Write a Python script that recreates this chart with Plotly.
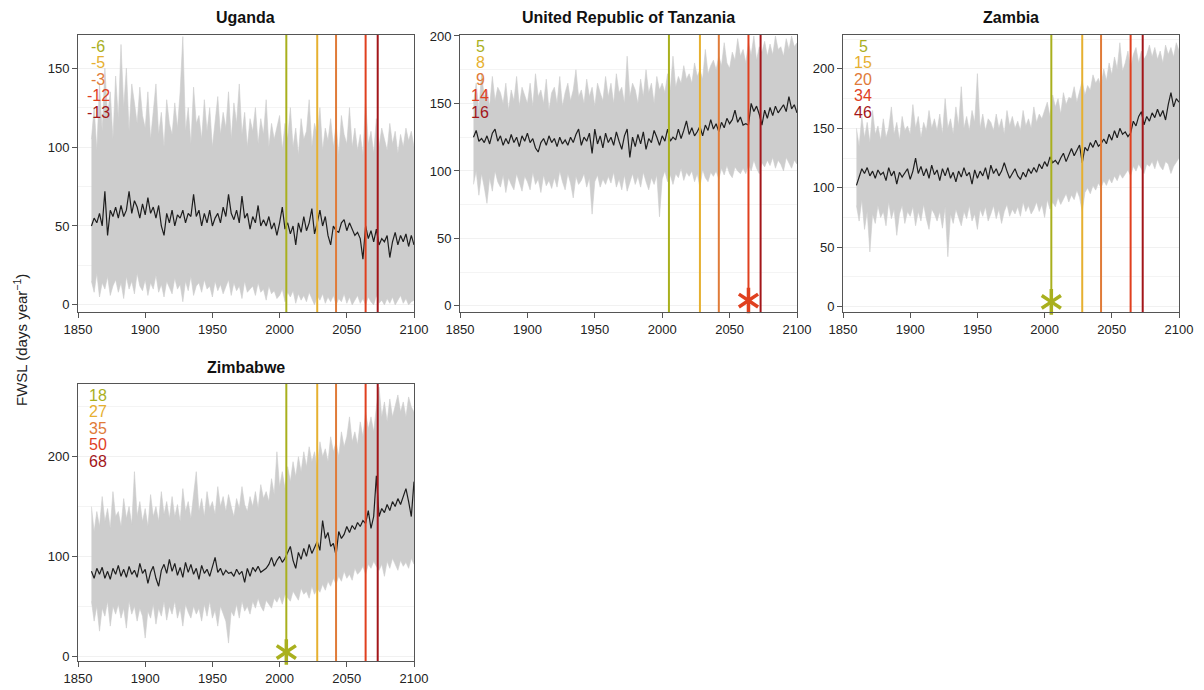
import plotly.graph_objects as go

# ---------------- data ----------------
years = list(range(1860, 2101, 2))
threshold_years = [2005, 2028, 2042, 2064, 2073]
threshold_colors = ['#a9b01e', '#e6b030', '#e07b39', '#e0401f', '#a3161a']
x_ticks = [1850, 1900, 1950, 2000, 2050, 2100]

countries = ['Uganda', 'United Republic of Tanzania', 'Zambia', 'Zimbabwe']

uganda_labels = ['-6', '-5', '-3', '-12', '-13']
tanzania_labels = ['5', '8', '9', '14', '16']
zambia_labels = ['5', '15', '20', '34', '46']
zimbabwe_labels = ['18', '27', '35', '50', '68']

# emergence markers: (year, threshold index) or None
uganda_star = None
tanzania_star = (2064, 3)
zambia_star = (2005, 0)
zimbabwe_star = (2005, 0)

uganda_mean = [
    50, 55, 52, 58, 50, 72, 44, 60, 56, 62,
    55, 63, 56, 60, 72, 58, 66, 62, 55, 64,
    57, 68, 58, 62, 55, 63, 50, 44, 58, 52,
    60, 50, 57, 55, 60, 52, 58, 56, 70, 56,
    60, 50, 58, 52, 60, 50, 55, 58, 52, 62,
    56, 70, 58, 54, 60, 52, 69, 55, 58, 48,
    56, 52, 63, 50, 54, 50, 56, 48, 52, 44,
    52, 62, 48, 52, 45, 50, 38, 52, 46, 56,
    47, 52, 61, 45, 52, 60, 50, 56, 44, 38,
    50, 47, 46, 52, 54, 47, 52, 48, 44, 46,
    42, 29, 50, 42, 47, 40, 48, 38, 42, 40,
    44, 30, 40, 46, 38, 44, 40, 45, 37, 44,
    38]
uganda_upper = [
    105, 125, 98, 140, 110, 150, 120, 135, 105, 145,
    118, 165, 125, 150, 110, 140, 128, 115, 138, 120,
    112, 135, 105, 125, 140, 108, 122, 100, 130, 115,
    108, 128, 112, 135, 170, 110, 125, 102, 138, 115,
    120, 105, 130, 110, 125, 100, 118, 132, 108, 122,
    112, 135, 105, 128, 115, 140, 108, 122, 100, 118,
    110, 125, 102, 118, 108, 130, 100, 115, 105, 112,
    120, 98, 115, 105, 125, 100, 112, 95, 118, 105,
    110, 130, 100, 115, 108, 125, 98, 112, 104, 118,
    100, 115, 95, 120, 108, 102, 125, 100, 112, 98,
    108, 95, 130, 102, 110, 96, 118, 100, 112, 105,
    98, 115, 102, 110, 96, 108, 100, 112, 104, 110,
    100]
uganda_lower = [
    15, 8, 20, 5, 14, 10, 18, 6, 12, 16,
    8, 14, 4, 18, 10, 15, 7, 20, 12, 9,
    16, 6, 14, 10, 19, 8, 13, 5, 15, 11,
    7, 17, 10, 13, 2, 15, 9, 18, 6, 12,
    14, 8, 16, 10, 12, 5, 15, 9, 13, 7,
    11, 16, 6, 14, 9, 12, 4, 15, 8, 10,
    12, 6, 14, 8, 10, 3, 12, 7, 9, 4,
    6, 10, 2, 8, 5, 9, 1, 7, 3, 6,
    2, 8, 4, 0, 6, 3, 7, 1, 5, 2,
    6, 0, 4, 2, 7, 1, 5, 0, 3, 6,
    1, 4, 0, 5, 2, 0, 6, 1, 3, 0,
    4, 1, 5, 0, 3, 6, 1, 4, 0, 2,
    3]

tanzania_mean = [
    125, 130, 122, 124, 121, 126, 120, 128, 131, 122,
    126, 119, 124, 120, 127, 121, 125, 118, 126, 122,
    128, 121, 124, 117, 114, 121, 124, 119, 126, 121,
    124, 118, 125, 120, 123, 119, 125, 121, 127, 131,
    119, 125, 122, 128, 113, 131, 120, 126, 117, 128,
    121, 125, 119, 129, 122, 116, 126, 131, 110, 125,
    118, 127, 120, 129, 116, 124, 121, 130, 125, 119,
    126, 122, 131, 122, 125, 123, 131, 124, 130, 137,
    127, 132, 126, 129, 133, 126, 134, 130, 138, 131,
    135, 129, 136, 132, 139, 135, 138, 145, 136, 140,
    134, 135, 134, 150, 144, 148, 142, 134, 145, 139,
    147, 141, 148, 143, 146, 149, 144, 155, 146, 149,
    143]
tanzania_upper = [
    150, 165, 145, 172, 155, 160, 148, 170, 152, 162,
    158, 150, 165, 145, 160, 152, 170, 148, 162, 155,
    150, 165, 148, 172, 155, 160, 150, 168, 145, 158,
    162, 150, 170, 148, 158, 165, 152, 160, 175, 155,
    160, 150, 168, 155, 162, 148, 165, 158, 152, 170,
    155, 165, 150, 172, 158, 162, 150, 185, 155, 165,
    160, 150, 168, 155, 175, 158, 165, 150, 170, 160,
    165, 158, 172, 160, 185, 162, 170, 165, 178, 168,
    172, 165, 180, 170, 175, 168, 190, 172, 178, 182,
    175, 185, 178, 195, 180, 176, 188, 182, 198, 185,
    190, 180, 195, 186, 200, 182, 192, 188, 196, 185,
    194, 186, 200, 190, 192, 185, 198, 190, 200, 192,
    195]
tanzania_lower = [
    90, 100, 82, 98, 88, 76, 95, 85, 100, 92,
    88, 97, 84, 95, 90, 86, 98, 92, 85, 96,
    92, 86, 99, 90, 94, 84, 97, 89, 93, 87,
    95, 88, 100, 92, 86, 98, 91, 80, 96, 90,
    93, 98, 88, 95, 68, 92, 97, 88, 94, 90,
    96, 91, 99, 88, 94, 86, 97, 85, 92, 98,
    90, 96, 88, 99, 92, 86, 95, 90, 97, 66,
    94, 100, 92, 97, 90, 98, 95, 102, 93, 99,
    96, 100, 92, 98, 88, 101, 95, 92, 99, 96,
    100, 94, 102, 97, 104, 98, 95, 103, 100, 98,
    102, 98, 105, 100, 108, 102, 98, 106, 103, 108,
    104, 110, 102, 108, 105, 100, 110, 106, 102, 108,
    105]

zambia_mean = [
    102, 110, 116, 112, 117, 110, 114, 108, 115, 111,
    113, 106, 117, 110, 114, 103, 113, 109, 112, 116,
    107, 114, 125, 112, 118, 110, 116, 108, 119, 111,
    115, 106, 116, 110, 117, 108, 113, 105, 114, 109,
    117, 110, 113, 103, 115, 108, 114, 110, 117, 107,
    119, 112, 116, 110, 114, 121, 114, 108, 112, 116,
    110, 107, 113, 109, 116, 112, 117, 113, 120, 116,
    122, 118, 126, 121, 123, 120, 125, 129, 122, 128,
    133, 127, 131, 136, 121, 134, 131, 138, 134, 140,
    135, 137, 141, 137, 145, 140, 148, 142, 150, 145,
    147, 143, 146, 156, 152, 160, 164, 153, 160, 156,
    163, 159, 166, 160, 165, 157, 170, 180, 168, 175,
    172]
zambia_upper = [
    150, 135, 160, 142, 155, 138, 165, 145, 152, 140,
    158, 142, 150, 168, 145, 155, 140, 160, 148, 152,
    145, 170, 150, 160, 142, 155, 148, 165, 150, 158,
    148, 162, 145, 175, 150, 158, 145, 168, 152, 185,
    150, 160, 148, 165, 155, 196, 150, 162, 148, 158,
    155, 148, 162, 150, 158, 145, 165, 152, 160, 150,
    156, 148, 165, 152, 158, 150, 168, 155, 162, 158,
    165, 172, 160, 178, 168, 175, 162, 180, 170, 176,
    175, 185, 172, 180, 190, 178, 186, 182, 195, 188,
    192, 185, 200, 190, 205, 195, 210, 200, 222, 198,
    205, 215, 200, 212, 218, 205, 215, 208, 212, 220,
    210, 218, 208, 215, 205, 220, 212, 218, 210, 222,
    215]
zambia_lower = [
    85, 72, 90, 65, 80, 46, 78, 70, 85, 75,
    80, 68, 88, 74, 82, 60, 78, 85, 70, 80,
    76, 84, 68, 80, 72, 86, 74, 65, 82, 78,
    72, 80, 66, 84, 42, 78, 70, 82, 75, 68,
    80, 74, 85, 72, 78, 65, 82, 76, 84, 72,
    78, 85, 74, 82, 70, 80, 86, 76, 82, 78,
    84, 76, 88, 80, 85, 78, 82, 88, 80, 86,
    75, 90, 82, 88, 84, 92, 86, 90, 95, 88,
    94, 90, 98, 92, 80, 96, 100, 95, 102, 98,
    104, 100, 106, 102, 108, 104, 110, 106, 112, 108,
    112, 115, 110, 118, 114, 120, 116, 112, 120, 118,
    122, 116, 124, 118, 115, 122, 120, 112, 118, 122,
    125]

zimbabwe_mean = [
    85, 78, 88, 82, 89, 78, 85, 77, 88, 82,
    91, 80, 87, 79, 90, 82, 86, 79, 93, 83,
    87, 73, 84, 90, 78, 70, 86, 92, 83, 97,
    85, 93, 81, 89, 79, 94, 84, 92, 82, 88,
    77, 91, 83, 87, 80, 89, 99, 84, 88, 81,
    86, 83, 84, 80, 87, 82, 85, 74, 88, 80,
    89, 85, 90, 84, 86, 88, 92, 99, 90, 96,
    100, 94, 98, 104, 110, 96, 88, 104, 97, 108,
    100, 112, 103, 109, 115, 106, 136, 118, 124, 110,
    113, 101, 125, 118, 122, 130, 124, 131, 127, 134,
    130, 136, 133, 146, 128, 140, 181, 140, 148, 144,
    152, 146, 155, 150, 158, 152, 160, 168, 155, 140,
    175]
zimbabwe_upper = [
    150, 125, 145, 130, 160, 135, 148, 128, 165, 140,
    145, 130, 158, 138, 150, 132, 185, 140, 155, 135,
    148, 130, 162, 140, 150, 135, 165, 142, 155, 138,
    160, 140, 152, 135, 168, 145, 155, 138, 162, 185,
    145, 158, 140, 165, 148, 155, 142, 170, 150, 160,
    145, 162, 150, 140, 158, 148, 170, 152, 145, 160,
    150, 165, 148, 172, 158, 165, 155, 178, 162, 205,
    170, 185, 168, 190, 175, 195, 180, 200, 185, 205,
    190, 210, 195, 205, 188, 215, 200, 208, 195, 220,
    205, 215, 200, 225, 210, 220, 240, 215, 225, 212,
    235, 220, 245, 228, 240, 225, 250, 270, 240, 255,
    235, 258, 240, 250, 262, 245, 255, 240, 260, 250,
    245]
zimbabwe_lower = [
    55, 35, 50, 25, 48, 40, 55, 30, 50, 42,
    52, 38, 48, 28, 55, 42, 50, 35, 48, 40,
    18, 45, 38, 52, 32, 48, 40, 55, 36, 50,
    42, 55, 38, 48, 30, 52, 44, 38, 50, 42,
    48, 35, 52, 40, 55, 38, 46, 30, 50, 42,
    35, 13, 45, 40, 52, 38, 55, 45, 50, 42,
    55, 48, 58, 50, 45, 56, 52, 48, 58, 54,
    60, 52, 62, 58, 55, 65, 60, 56, 68, 62,
    65, 58, 70, 62, 68, 64, 72, 66, 75, 70,
    78, 72, 80, 75, 85, 78, 82, 76, 88, 82,
    85, 90, 82, 92, 88, 95, 90, 86, 92, 80,
    95, 88, 98, 92, 86, 96, 90, 94, 88, 98,
    92]

y_ticks = {
    'Uganda': [0, 50, 100, 150],
    'United Republic of Tanzania': [0, 50, 100, 150, 200],
    'Zambia': [0, 50, 100, 150, 200],
    'Zimbabwe': [0, 100, 200],
}
y_ranges = {
    'Uganda': [-4.5, 171],
    'United Republic of Tanzania': [-4.5, 200.7],
    'Zambia': [-4.5, 228.5],
    'Zimbabwe': [-5, 273],
}

series = {
    'Uganda': (uganda_mean, uganda_upper, uganda_lower, uganda_labels, uganda_star),
    'United Republic of Tanzania': (tanzania_mean, tanzania_upper, tanzania_lower, tanzania_labels, tanzania_star),
    'Zambia': (zambia_mean, zambia_upper, zambia_lower, zambia_labels, zambia_star),
    'Zimbabwe': (zimbabwe_mean, zimbabwe_upper, zimbabwe_lower, zimbabwe_labels, zimbabwe_star),
}

# ---------------- layout (pixel boxes) ----------------
W, H = 1204, 690
boxes = {  # left, right, top, bottom in pixels
    'Uganda': (78, 414, 35, 312),
    'United Republic of Tanzania': (460, 797, 35, 312),
    'Zambia': (843, 1179, 35, 312),
    'Zimbabwe': (78, 414, 384, 661),
}

FONT = 'Liberation Sans, Arial, Helvetica, sans-serif'
fig = go.Figure()
annotations = []
shapes = []

for i, c in enumerate(countries):
    n = '' if i == 0 else str(i + 1)
    xa, ya = 'x' + n, 'y' + n
    mean, upper, lower, labels, star = series[c]
    l, r, t, b = boxes[c]
    fig.add_trace(go.Scatter(x=years, y=lower, xaxis=xa, yaxis=ya, mode='lines',
                             line=dict(color='#cdcdcd', width=0.6), hoverinfo='skip',
                             showlegend=False))
    fig.add_trace(go.Scatter(x=years, y=upper, xaxis=xa, yaxis=ya, mode='lines',
                             line=dict(color='#cdcdcd', width=0.6), fill='tonexty',
                             fillcolor='#cdcdcd', hoverinfo='skip', showlegend=False))
    for yr, col in zip(threshold_years, threshold_colors):
        shapes.append(dict(type='line', xref=xa, yref=ya + ' domain', x0=yr, x1=yr,
                           y0=0, y1=1, line=dict(color=col, width=2)))
    fig.add_trace(go.Scatter(x=years, y=mean, xaxis=xa, yaxis=ya, mode='lines',
                             line=dict(color='#1e1e1e', width=1.2), showlegend=False))
    if star is not None:
        yr, k = star
        for sym in ['y-up-open', 'y-down-open']:
            fig.add_trace(go.Scatter(x=[yr], y=[4], xaxis=xa, yaxis=ya, mode='markers',
                                     marker=dict(symbol=sym, size=16,
                                                 color=threshold_colors[k],
                                                 line=dict(color=threshold_colors[k], width=3.5)),
                                     showlegend=False, cliponaxis=False))
    dom_x = [l / W, r / W]
    dom_y = [1 - b / H, 1 - t / H]
    axis_common = dict(showline=True, mirror=True, linecolor='#555555', linewidth=1,
                       ticks='outside', ticklen=5, tickcolor='#555555', zeroline=False,
                       automargin=False,
                       tickfont=dict(family=FONT, size=13, color='#222222'))
    fig.layout[('xaxis' + n)] = dict(domain=dom_x, anchor=ya, range=[1850, 2100],
                                     tickvals=x_ticks, showgrid=False, **axis_common)
    yt = y_ticks[c]
    step = yt[1] - yt[0]
    fig.layout[('yaxis' + n)] = dict(domain=dom_y, anchor=xa, range=y_ranges[c],
                                     tickvals=yt, showgrid=True, gridcolor='#f1f1f1',
                                     gridwidth=1,
                                     minor=dict(showgrid=True, dtick=step / 2, gridcolor='#f4f4f4',
                                                ticks=''),
                                     **axis_common)
    annotations.append(dict(text='<b>' + c + '</b>', xref='paper', yref='paper',
                            x=(dom_x[0] + dom_x[1]) / 2, y=1 - (t - 17) / H,
                            xanchor='center', yanchor='middle', showarrow=False,
                            font=dict(family=FONT, size=16, color='#111111')))
    for j, (lab, col) in enumerate(zip(labels, threshold_colors)):
        annotations.append(dict(text=lab, xref=xa, yref=ya + ' domain', x=1865,
                                y=1 - (11 + 16.5 * j) / (b - t), xanchor='center',
                                yanchor='middle', showarrow=False,
                                font=dict(family=FONT, size=16, color=col)))

annotations.append(dict(text='FWSL (days year<sup>−1</sup>)', xref='paper', yref='paper',
                        x=20 / W, y=1 - 340 / H, textangle=-90, showarrow=False,
                        xanchor='center', yanchor='middle',
                        font=dict(family=FONT, size=15, color='#222222')))

fig.update_layout(width=W, height=H, margin=dict(l=0, r=0, t=0, b=0, autoexpand=False),
                  paper_bgcolor='white', plot_bgcolor='white',
                  annotations=annotations, shapes=shapes, showlegend=False)
fig.write_html('out.html')
